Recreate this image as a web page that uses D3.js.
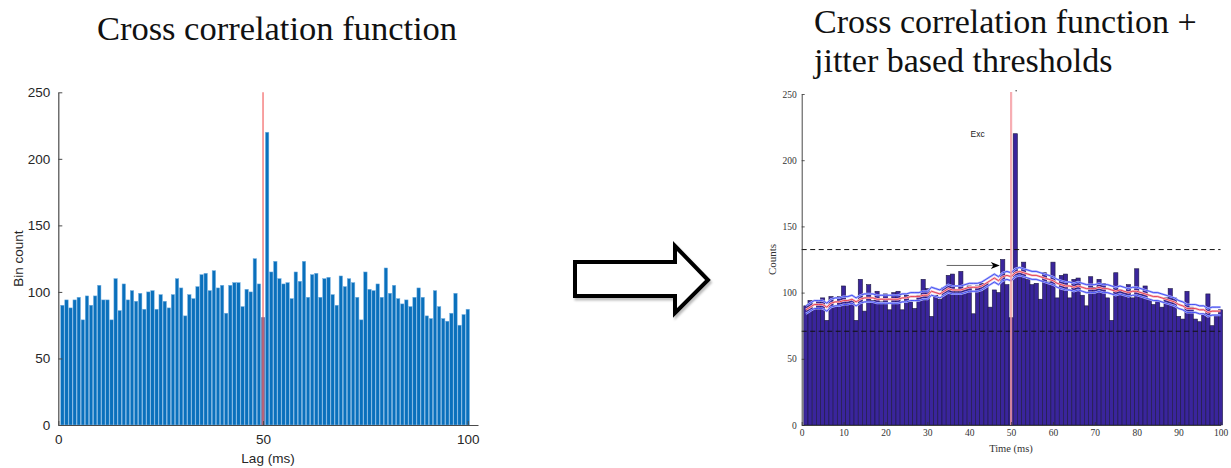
<!DOCTYPE html>
<html>
<head>
<meta charset="utf-8">
<script src="https://cdn.jsdelivr.net/npm/d3@7"></script>
<style>
  html, body { margin: 0; padding: 0; background: #fff; }
  svg { display: block; }
</style>
</head>
<body>
<svg id="fig" width="1231" height="468"></svg>
<script>
// Bin counts of the cross-correlogram, one value per 1 ms lag bin (lags 1..100)
const lags = d3.range(1, 101);
const binCounts = [
  90, 94, 88, 94, 96, 79, 97, 90, 97, 105,
  94, 94, 79, 110, 86, 106, 94, 101, 93, 99,
  87, 100, 101, 87, 98, 93, 88, 98, 110, 103,
  82, 98, 95, 104, 113, 114, 101, 116, 103, 105,
  84, 105, 107, 107, 89, 102, 100, 125, 106, 81,
  220, 115, 123, 110, 106, 107, 95, 115, 108, 123,
  96, 113, 114, 96, 110, 111, 98, 90, 112, 104,
  110, 107, 96, 79, 115, 102, 101, 106, 96, 118,
  99, 105, 95, 91, 94, 89, 96, 103, 96, 82,
  80, 101, 89, 80, 78, 84, 99, 75, 83, 87
];

// Jitter surrogate statistics: mean and pointwise band
const jitterMean = [
  87, 89, 91, 91, 91, 89, 92, 93, 93, 94,
  94, 95, 93, 95, 96, 96, 96, 95, 95, 95,
  95, 95, 95, 96, 96, 97, 97, 97, 98, 98,
  101, 100, 99, 101, 103, 102, 102, 102, 103, 104,
  104, 104, 105, 107, 109, 111, 109, 112, 113, 112,
  115, 116, 115, 114, 113, 113, 112, 111, 110, 109,
  107, 106, 105, 105, 104, 105, 104, 103, 103, 103,
  104, 103, 103, 102, 101, 102, 101, 100, 101, 101,
  100, 99, 98, 97, 97, 96, 95, 94, 93, 91,
  90, 88, 88, 88, 87, 87, 85, 86, 86, 86
];
const jitterUpper = [
  90, 92, 94, 94, 94, 92, 95, 96, 96, 97,
  97, 98, 96, 98, 99, 99, 99, 98, 98, 98,
  98, 98, 98, 99, 99, 100, 100, 100, 101, 101,
  104, 103, 102, 104, 106, 105, 105, 105, 106, 107,
  107, 107, 108, 110, 112, 114, 112, 115, 116, 115,
  118, 119, 118, 117, 116, 116, 115, 114, 113, 112,
  110, 109, 108, 108, 107, 108, 107, 106, 106, 106,
  107, 106, 106, 105, 104, 105, 104, 103, 104, 104,
  103, 102, 101, 100, 100, 99, 98, 97, 96, 94,
  93, 91, 91, 91, 90, 90, 88, 89, 89, 89
];
const jitterLower = [
  84, 86, 88, 88, 88, 86, 89, 90, 90, 91,
  91, 92, 90, 92, 93, 93, 93, 92, 92, 92,
  92, 92, 92, 93, 93, 94, 94, 94, 95, 95,
  98, 97, 96, 98, 100, 99, 99, 99, 100, 101,
  101, 101, 102, 104, 106, 108, 106, 109, 110, 109,
  112, 113, 112, 111, 110, 110, 109, 108, 107, 106,
  104, 103, 102, 102, 101, 102, 101, 100, 100, 100,
  101, 100, 100, 99, 98, 99, 98, 97, 98, 98,
  97, 96, 95, 94, 94, 93, 92, 91, 90, 88,
  87, 85, 85, 85, 84, 84, 82, 83, 83, 83
];

// Global significance thresholds (counts)
const thresholdHigh = 132.5;
const thresholdLow = 70.8;

// Zero-lag reference and annotations
const zeroLag = 50;
const excLabel = { lag: 42, count: 220, text: "Exc" };
const peakArrow = { from: 34.6, to: 47.3, count: 120.5 };

// Axis ticks
const leftYTicks = [0, 50, 100, 150, 200, 250];
const leftXTicks = [0, 50, 100];
const rightYTicks = [0, 50, 100, 150, 200, 250];
const rightXTicks = [0, 10, 20, 30, 40, 50, 60, 70, 80, 90, 100];

const svg = d3.select("#fig");
const SANS = "'Liberation Sans', Arial, Helvetica, sans-serif";
const SERIF = "'Liberation Serif', 'Times New Roman', serif";

// ---------------- Titles ----------------
svg.append("text")
  .attr("x", 277).attr("y", 40)
  .attr("text-anchor", "middle")
  .attr("font-family", SERIF).attr("font-size", 34.5).attr("fill", "#111")
  .text("Cross correlation function");

const t2 = svg.append("text")
  .attr("font-family", SERIF).attr("font-size", 34).attr("fill", "#111");
t2.append("tspan").attr("x", 814).attr("y", 33).text("Cross correlation function +");
t2.append("tspan").attr("x", 814).attr("y", 72).text("jitter based thresholds");

// ---------------- Left panel: plain correlogram ----------------
const xL = d3.scaleLinear().domain([0, 102.5]).range([58.3, 478]);
const yL = d3.scaleLinear().domain([0, 250]).range([425, 92.3]);
const bwL = (xL(1) - xL(0)) * 0.84;

const gL = svg.append("g");

gL.selectAll("rect.bar")
  .data(lags)
  .join("rect")
  .attr("class", "bar")
  .attr("x", (d) => xL(d) - bwL / 2)
  .attr("width", bwL)
  .attr("y", (d, i) => yL(binCounts[i]))
  .attr("height", (d, i) => yL(0) - yL(binCounts[i]))
  .attr("fill", (d) => d === zeroLag ? "#4d5590" : "#0a70bc")
  .attr("stroke", (d) => d === zeroLag ? "none" : "#78b2e2")
  .attr("stroke-width", 0.5);

// zero-lag marker
gL.append("line")
  .attr("x1", xL(zeroLag)).attr("x2", xL(zeroLag))
  .attr("y1", yL(250)).attr("y2", yL(0))
  .attr("stroke", "#f36b6b").attr("stroke-opacity", 0.85).attr("stroke-width", 1.5);

// axes (ticks pointing inward)
const axLY = d3.axisLeft(yL).tickValues(leftYTicks).tickSizeInner(-4).tickSizeOuter(0).tickPadding(8);
const axLX = d3.axisBottom(xL).tickValues(leftXTicks).tickSizeInner(-4).tickSizeOuter(0).tickPadding(8);

const gLY = gL.append("g").attr("transform", `translate(${xL(0)},0)`).call(axLY);
const gLX = gL.append("g").attr("transform", `translate(0,${yL(0)})`).call(axLX);
[gLY, gLX].forEach((g) => {
  g.select(".domain").attr("stroke", "#4a4a4a").attr("stroke-width", 1.2);
  g.selectAll(".tick line").attr("stroke", "#4a4a4a");
  g.selectAll(".tick text").attr("font-family", SANS).attr("font-size", 13.5).attr("fill", "#262626");
});
gLX.selectAll(".tick text").attr("dy", "0.85em");

gL.append("text")
  .attr("x", 268).attr("y", 463)
  .attr("text-anchor", "middle")
  .attr("font-family", SANS).attr("font-size", 13.5).attr("fill", "#262626")
  .text("Lag (ms)");
gL.append("text")
  .attr("transform", `translate(23,${(yL(0) + yL(250)) / 2}) rotate(-90)`)
  .attr("text-anchor", "middle")
  .attr("font-family", SANS).attr("font-size", 13.5).attr("fill", "#262626")
  .text("Bin count");

// ---------------- Block arrow between panels ----------------
const arrowPts = [[575, 262], [675, 262], [675, 246], [708, 280], [675, 313], [675, 296], [575, 296]];
const arrowPath = d3.line()(arrowPts) + "Z";
svg.append("path")
  .attr("d", arrowPath)
  .attr("transform", "translate(1.5,2.5)")
  .attr("fill", "none").attr("stroke", "#bbb").attr("stroke-width", 4)
  .attr("stroke-linejoin", "miter")
  .style("filter", "blur(1.2px)");
svg.append("path")
  .attr("d", arrowPath)
  .attr("fill", "#fff").attr("stroke", "#000").attr("stroke-width", 4)
  .attr("stroke-linejoin", "miter");

// ---------------- Right panel: correlogram + jitter thresholds ----------------
const xR = d3.scaleLinear().domain([0, 100]).range([801.7, 1220.5]);
const yR = d3.scaleLinear().domain([0, 250]).range([425, 94]);
const bwR = xR(1) - xR(0);

const gR = svg.append("g");

gR.selectAll("rect.bar")
  .data(lags)
  .join("rect")
  .attr("class", "bar")
  .attr("x", (d) => xR(d) - bwR / 2)
  .attr("width", bwR)
  .attr("y", (d, i) => yR(binCounts[i]))
  .attr("height", (d, i) => yR(0) - yR(binCounts[i]))
  .attr("fill", "#3a259c")
  .attr("stroke", "#1c1840").attr("stroke-width", 0.6);

// threshold lines
[thresholdHigh, thresholdLow].forEach((v) => {
  gR.append("line")
    .attr("x1", xR(0)).attr("x2", xR(100))
    .attr("y1", yR(v)).attr("y2", yR(v))
    .attr("stroke", "#111").attr("stroke-width", 1)
    .attr("stroke-dasharray", "5,3.5");
});

// jitter band and mean
const lineR = (arr) => d3.line().x((d) => xR(d)).y((d, i) => yR(arr[i]))(lags);
[jitterUpper, jitterLower].forEach((arr) => {
  gR.append("path").attr("d", lineR(arr))
    .attr("fill", "none").attr("stroke", "#b4b8fb").attr("stroke-width", 2.2);
  gR.append("path").attr("d", lineR(arr))
    .attr("fill", "none").attr("stroke", "#2a36f0").attr("stroke-width", 0.8);
});
gR.append("path").attr("d", lineR(jitterMean))
  .attr("fill", "none").attr("stroke", "#f7c0c6").attr("stroke-width", 2.4);
gR.append("path").attr("d", lineR(jitterMean))
  .attr("fill", "none").attr("stroke", "#e0203a").attr("stroke-width", 0.8);

// zero-lag marker
gR.append("line")
  .attr("x1", xR(zeroLag)).attr("x2", xR(zeroLag))
  .attr("y1", yR(250) - 2).attr("y2", yR(0))
  .attr("stroke", "#f59aa0").attr("stroke-opacity", 0.8).attr("stroke-width", 2.2);

// annotation arrow pointing at the pre-peak bin
gR.append("line")
  .attr("x1", xR(peakArrow.from)).attr("x2", xR(peakArrow.to) - 6)
  .attr("y1", yR(peakArrow.count)).attr("y2", yR(peakArrow.count))
  .attr("stroke", "#555").attr("stroke-width", 0.9);
{
  const tx = xR(peakArrow.to), ty = yR(peakArrow.count);
  gR.append("path")
    .attr("d", `M${tx},${ty} L${tx - 9},${ty - 3.5} L${tx - 6.5},${ty} L${tx - 9},${ty + 3.5} Z`)
    .attr("fill", "#000");
}

gR.append("text")
  .attr("x", xR(excLabel.lag)).attr("y", yR(excLabel.count))
  .attr("text-anchor", "middle").attr("dy", "0.35em")
  .attr("font-family", SANS).attr("font-size", 8.5).attr("fill", "#222")
  .text(excLabel.text);

gR.append("circle")
  .attr("cx", xR(51.2)).attr("cy", yR(252.5)).attr("r", 0.7).attr("fill", "#333");

// axes
const axRY = d3.axisLeft(yR).tickValues(rightYTicks).tickSizeInner(-3).tickSizeOuter(0).tickPadding(5);
const axRX = d3.axisBottom(xR).tickValues(rightXTicks).tickSizeInner(-3).tickSizeOuter(0).tickPadding(5);
const gRY = gR.append("g").attr("transform", `translate(${xR(0)},0)`).call(axRY);
const gRX = gR.append("g").attr("transform", `translate(0,${yR(0)})`).call(axRX);
[gRY, gRX].forEach((g) => {
  g.select(".domain").attr("stroke", "#333").attr("stroke-width", 0.9);
  g.selectAll(".tick line").attr("stroke", "#333").attr("stroke-width", 0.8);
  g.selectAll(".tick text").attr("font-family", SERIF).attr("font-size", 9.5).attr("fill", "#333");
});
gRX.selectAll(".tick text").attr("dy", "0.6em");

gR.append("text")
  .attr("x", 1011).attr("y", 452)
  .attr("text-anchor", "middle")
  .attr("font-family", SERIF).attr("font-size", 10.5).attr("fill", "#333")
  .text("Time (ms)");
gR.append("text")
  .attr("transform", `translate(776,${(yR(0) + yR(250)) / 2}) rotate(-90)`)
  .attr("text-anchor", "middle")
  .attr("font-family", SERIF).attr("font-size", 11).attr("fill", "#333")
  .text("Counts");
</script>
</body>
</html>
